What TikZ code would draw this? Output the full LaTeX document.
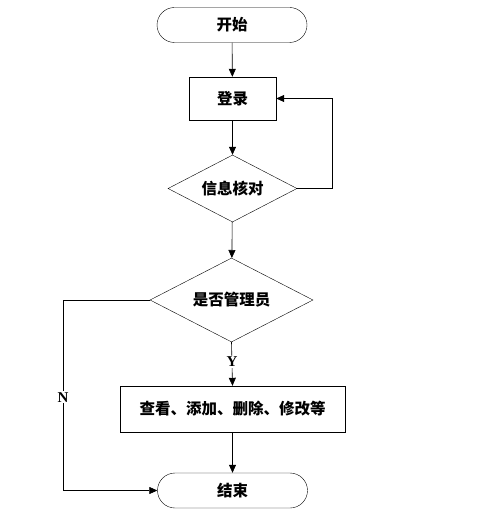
\documentclass[tikz,border=0pt]{standalone}
\usepackage{fontspec}
\setmainfont{Liberation Serif}
\newfontfamily\cjk{Noto Sans CJK SC}
\usetikzlibrary{shapes.geometric,shapes.misc,arrows.meta}
\begin{document}
\begin{tikzpicture}[x=1pt,y=-1pt,
  every node/.style={font=\cjk\bfseries\fontsize{15.5}{17}\selectfont},
  term/.style={draw,rounded rectangle,minimum width=150pt,minimum height=35pt,inner sep=0pt},
  proc/.style={draw,rectangle,inner sep=0pt},
  dec/.style={draw,diamond,aspect=1.9,inner sep=0pt},
  line/.style={draw,line width=0.6pt},
  arr/.style={line,-{Triangle[length=8pt,width=7pt]}},
  lbl/.style={font=\rmfamily\bfseries\fontsize{15}{17}\selectfont,fill=white,inner sep=1pt}]
\useasboundingbox (0,0) rectangle (502,513);
\node[term] (start) at (232,25) {开始};
\node[proc,minimum width=87pt,minimum height=43pt] (login) at (232.5,98.5) {登录};
\node[dec,minimum width=129pt,minimum height=67pt] (check) at (232.5,188.5) {信息核对};
\node[dec,minimum width=163pt,minimum height=84pt] (admin) at (231.5,300) {是否管理员};
\node[proc,minimum width=225pt,minimum height=46pt] (ops) at (232.5,409) {查看、添加、删除、修改等};
\node[term] (end) at (232.5,490.5) {结束};
\coordinate (fb1) at (332,188.5);
\coordinate (fb2) at (332,98.5);
\coordinate (n1) at (63,300);
\coordinate (n2) at (63,490.5);
\draw[arr] (start) -- (login);
\draw[arr] (login) -- (check);
\draw[arr] (check) -- (admin);
\draw[line] (check.east) -- (fb1) -- (fb2);
\draw[arr] (fb2) -- (login.east);
\draw[arr] (admin.south) -- node[lbl,pos=0.45] (ylab) {Y} (ops.north);
\draw[arr] (ops) -- (end);
\draw[line] (admin.west) -- (n1);
\draw[arr] (n1) -- node[lbl,pos=0.51] (nlab) {N} (n2) -- (end.west);
\end{tikzpicture}
\end{document}
